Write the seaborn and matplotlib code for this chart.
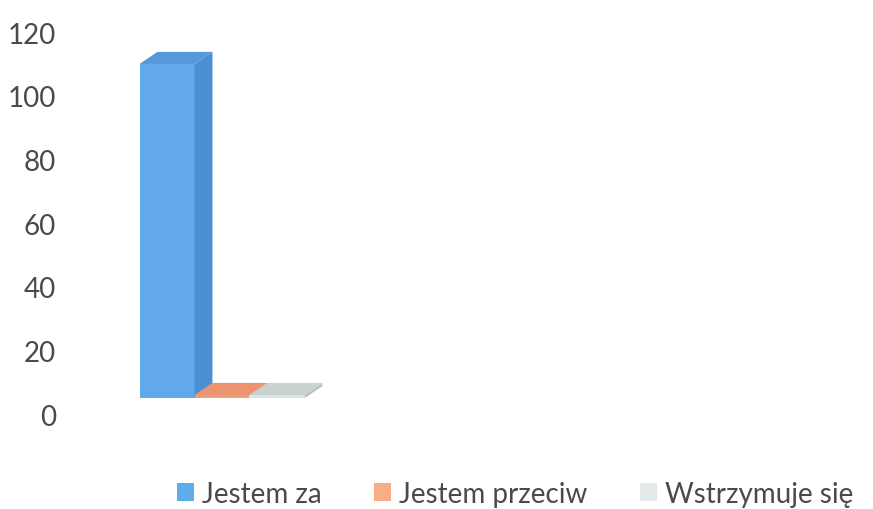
import matplotlib
matplotlib.use("Agg")
import matplotlib.pyplot as plt
import seaborn as sns
import pandas as pd
from matplotlib.patches import Polygon, Patch

# dane
categories = ["Jestem za", "Jestem przeciw", "Wstrzymuje się"]
values = [105, 1, 1]
yticks = [0, 20, 40, 60, 80, 100, 120]

front_colors = ["#62A9EB", "#EF9D76", "#DDE4E4"]
side_colors = ["#4C8FD3", "#D9825A", "#B9C2C2"]
top_colors = ["#5798DD", "#EC9470", "#C9D1D1"]

sns.set_style("white")
plt.rcParams["font.family"] = ["Lato", "DejaVu Sans"]

df = pd.DataFrame({"grupa": [""] * 3, "odpowiedz": categories, "liczba": values})

fig = plt.figure(figsize=(8.73, 5.10), dpi=100)
ax = fig.add_axes([0.080, 0.186, 0.917, 0.749])

sns.barplot(data=df, x="grupa", y="liczba", hue="odpowiedz", hue_order=categories,
            palette=front_colors, width=0.8, legend=False, ax=ax, linewidth=0, saturation=1)

# efekt 3D: przesuniecie podlogi i glebokosc
floor = 5.0
dx, dy = 0.087, 3.8
for i, p in enumerate(ax.patches):
    p.set_y(floor)
    p.set_zorder(3 + i)
    x, w, h = p.get_x(), p.get_width(), p.get_height()
    y0, y1 = floor, floor + h
    side = Polygon([(x + w, y0), (x + w + dx, y0 + dy), (x + w + dx, y1 + dy), (x + w, y1)],
                   closed=True, facecolor=side_colors[i], edgecolor="none", zorder=3 + i)
    top = Polygon([(x, y1), (x + dx, y1 + dy), (x + w + dx, y1 + dy), (x + w, y1)],
                  closed=True, facecolor=top_colors[i], edgecolor="none", zorder=3 + i)
    ax.add_patch(side)
    ax.add_patch(top)

ax.set_xlim(-0.738, 3.145)
ax.set_ylim(0, 120)
ax.set_yticks(yticks)
ax.set_yticklabels([str(t) for t in yticks], fontsize=20, color="#4A4A4A")
ax.set_xticks([])
ax.set_xlabel("")
ax.set_ylabel("")
ax.tick_params(axis="y", length=0, pad=10)
for s in ax.spines.values():
    s.set_visible(False)

handles = [Patch(facecolor=c, edgecolor="none") for c in ["#5DADEC", "#F7AD85", "#E6EAEA"]]
fig.legend(handles, categories, loc="lower left", bbox_to_anchor=(0.174, -0.045), ncol=3,
           frameon=False, fontsize=20, handlelength=0.6, handleheight=0.6,
           handletextpad=0.3, columnspacing=1.9, labelcolor="#4A4A4A")

fig.savefig("out.png", dpi=100)
